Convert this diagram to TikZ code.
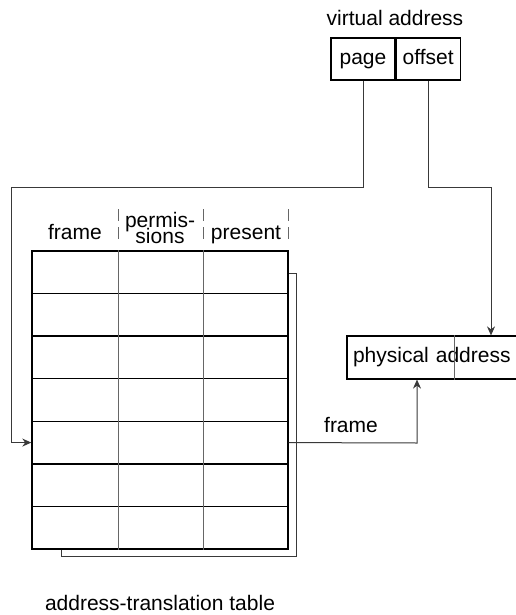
\documentclass[tikz,border=0pt]{standalone}
\usepackage{fontspec}
\setmainfont{Liberation Sans}
\usetikzlibrary{arrows.meta,positioning}
\newcommand\tightlines{\lineskiplimit=-30pt\relax}

\begin{document}
\begin{tikzpicture}[
			x=1pt,y=-1pt,
			>={Stealth[length=9pt,width=8pt]},
			label/.style={
				font=\fontsize{21}{22}\selectfont,
				align=center,
				inner sep=0pt
			},
			field/.style={
				draw=black,
				line width=1.2pt,
				minimum width=64pt,
				minimum height=42pt,
				inner sep=0pt,
				text height=15pt,
				text depth=4.5pt,
				font=\fontsize{21}{22}\selectfont
			},
			rowbox/.style={
				draw=black,
				line width=1.4pt,
				minimum width=256pt,
				minimum height=42.57pt,
				inner sep=0pt
			},
			divider/.style={
				draw=gray!80!black,
				line width=1pt
			},
			tick/.style={
				draw=gray!80!black,
				line width=1pt,
				dash pattern=on 12pt off 6pt
			},
			arrow/.style={
				draw=gray!45!black,
				line width=1pt
			}
			]
			\useasboundingbox (0,0) rectangle (515,615);

			% oben: virtuelle Adresse
			\node[label] (vaddr) at (395,18) {virtual address};
			\node[field] (page) at (363,59) {page};
			\node[field,right=0pt of page] (offset) {offset};

			% rechts: physische Adresse
			\node[field,minimum width=200pt,minimum height=43pt,text width=188pt,
				align=left,inner xsep=6pt] (phys) at (447,357.5) {physical address};
			\coordinate (pdiv) at (454,0);
			\draw[divider] (phys.north -| pdiv) -- (phys.south -| pdiv);

			% Tabelle
			\draw[arrow] (61,549) -- (61,556) -- (296,556) -- (296,273) -- (288,273);
			\foreach \i in {1,...,7}
				\node[rowbox,fill=white] (row\i) at (160,{251+42.57*(\i-0.5)}) {};
			\draw[rowbox] (row1.north west) rectangle (row7.south east);
			\coordinate (col1) at (118,0);
			\coordinate (col2) at (203,0);
			\foreach \c in {col1,col2}
				\draw[divider] (row1.north -| \c) -- (row7.south -| \c);
			\foreach \c in {col1,col2,row1.east}
				\draw[tick] (\c |- 0,209) -- (\c |- 0,242);

			\node[label,anchor=base] (hframe) at (75,239) {frame};
			\node[label,anchor=base,font=\fontsize{21}{16}\selectfont\tightlines]
			(hperm) at (160,243) {permis-\\sions};
			\node[label,anchor=base] (hpresent) at (246,239) {present};

			\node[label] (tname) at (160,603) {address-translation table};

			% Verbindungen
			\coordinate (pbend) at (11,187);
			\coordinate (obend) at (491,187);
			\coordinate (fbend) at (417,443);
			\draw[arrow,->] (page.south) |- (pbend) |- (row5.west);
			\draw[arrow,->] (offset.south) |- (obend) -- (obend |- phys.north);
			\draw[arrow,->] (row5.east) -- (fbend) -- (fbend |- phys.south);
			\node[label,anchor=base] (lframe) at (351,432) {frame};

		\end{tikzpicture}
\end{document}
